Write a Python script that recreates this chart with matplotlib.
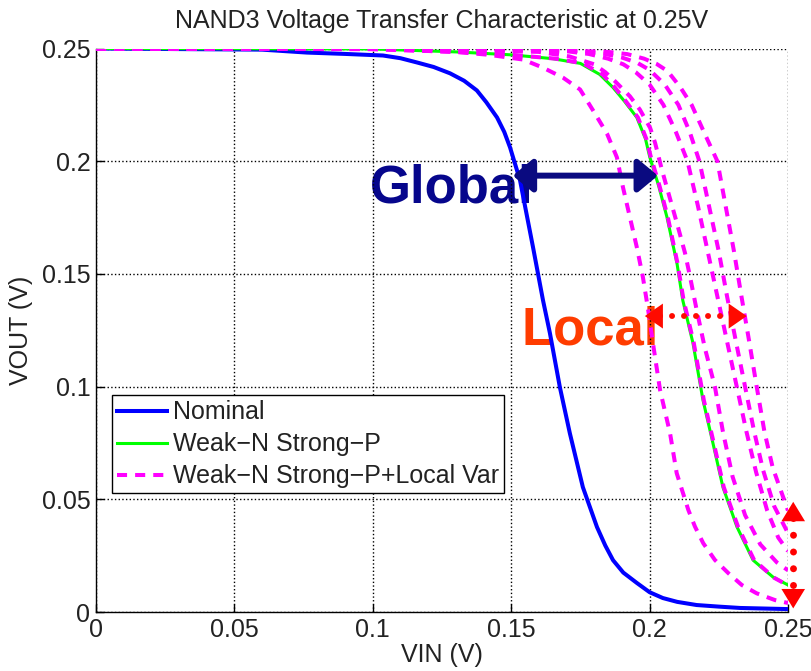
import matplotlib
matplotlib.use("Agg")
import matplotlib.pyplot as plt
from matplotlib.patches import FancyArrowPatch

plt.rcParams['font.family'] = ['Liberation Sans', 'DejaVu Sans']

# tick positions / labels
TICKS = [0, 0.05, 0.1, 0.15, 0.2, 0.25]
TICK_LABELS = ['0', '0.05', '0.1', '0.15', '0.2', '0.25']

# Nominal
nom_x = [0, 0.06, 0.0762, 0.09, 0.1037, 0.11, 0.116, 0.122, 0.1279, 0.133, 0.1376, 0.141,
         0.1449, 0.1475, 0.1496, 0.1532, 0.1579, 0.1615, 0.164, 0.1676, 0.1712, 0.1759,
         0.181, 0.184, 0.1868, 0.1905, 0.1954, 0.2, 0.2048, 0.21, 0.217, 0.225, 0.2327, 0.25]
nom_y = [0.25, 0.2495, 0.2482, 0.2476, 0.2469, 0.2457, 0.2438, 0.2418, 0.239, 0.2357, 0.2314,
         0.2262, 0.2194, 0.213, 0.2061, 0.1915, 0.1618, 0.1383, 0.1237, 0.0997, 0.0793, 0.0554,
         0.0377, 0.0295, 0.023, 0.0175, 0.0129, 0.0088, 0.0062, 0.0045, 0.0031, 0.0024, 0.0018,
         0.0013]

# Weak-N Strong-P
wnsp_x = [0, 0.10, 0.13, 0.15, 0.165, 0.175, 0.182, 0.1868, 0.191, 0.1954, 0.1985, 0.2001,
          0.2033, 0.2063, 0.2099, 0.212, 0.2157, 0.2193, 0.2229, 0.2265, 0.2316, 0.2374,
          0.2446, 0.25]
wnsp_y = [0.25, 0.2498, 0.2485, 0.2472, 0.2455, 0.2434, 0.2385, 0.2327, 0.2265, 0.2194, 0.21,
          0.2017, 0.189, 0.1751, 0.1547, 0.1383, 0.1192, 0.094, 0.0749, 0.0554, 0.0377, 0.023,
          0.0155, 0.012]

# Weak-N Strong-P + local variation, one pair of lists per run
lv1_x = [0, 0.10, 0.13, 0.142, 0.1543, 0.1615, 0.1687, 0.1749, 0.1796, 0.1846, 0.1882, 0.1904,
         0.1929, 0.1954, 0.1976, 0.1995, 0.2015, 0.2038, 0.2074, 0.2098, 0.214, 0.2164,
         0.2194, 0.2236, 0.2285, 0.2333, 0.2387, 0.2453, 0.25]
lv1_y = [0.25, 0.2497, 0.2485, 0.2472, 0.2451, 0.2415, 0.2371, 0.2318, 0.2225, 0.2123, 0.2017,
         0.1884, 0.1751, 0.1618, 0.1485, 0.134, 0.117, 0.0984, 0.0793, 0.0616, 0.0453, 0.0379,
         0.0305, 0.0231, 0.0172, 0.012, 0.0083, 0.0053, 0.004]

lv2_x = [0, 0.10, 0.13, 0.15, 0.166, 0.176, 0.183, 0.1875, 0.1915, 0.1958, 0.1988, 0.2005,
         0.2036, 0.2066, 0.2101, 0.2123, 0.2160, 0.2196, 0.2232, 0.2268, 0.2320, 0.2378,
         0.2450, 0.25]
lv2_y = [0.25, 0.2498, 0.2485, 0.2472, 0.2455, 0.2434, 0.2385, 0.2327, 0.2265, 0.2194, 0.21,
         0.2017, 0.189, 0.1751, 0.1547, 0.1383, 0.1192, 0.094, 0.0749, 0.0554, 0.0377, 0.023,
         0.0152, 0.0118]

lv3_x = [0, 0.12, 0.16, 0.171, 0.18, 0.184, 0.1875, 0.1929, 0.1965, 0.2002, 0.2020, 0.2045,
         0.2075, 0.2100, 0.2128, 0.2146, 0.2170, 0.2200, 0.2236, 0.2265, 0.2300, 0.2345,
         0.2400, 0.2460, 0.25]
lv3_y = [0.25, 0.2498, 0.2485, 0.2465, 0.243, 0.2395, 0.2355, 0.2288, 0.2229, 0.2148, 0.2081,
         0.196, 0.1829, 0.172, 0.1593, 0.1489, 0.1341, 0.117, 0.1, 0.08, 0.06, 0.043, 0.03,
         0.022, 0.0185]

lv4_x = [0, 0.13, 0.17, 0.178, 0.185, 0.1905, 0.195, 0.2, 0.205, 0.2095, 0.2137, 0.2175,
         0.221, 0.2245, 0.228, 0.2315, 0.235, 0.2385, 0.2425, 0.2465, 0.25]
lv4_y = [0.25, 0.2498, 0.2488, 0.2476, 0.2455, 0.243, 0.2395, 0.234, 0.225, 0.213, 0.2, 0.18,
         0.16, 0.14, 0.12, 0.1, 0.08, 0.062, 0.045, 0.033, 0.027]

lv5_x = [0, 0.14, 0.175, 0.183, 0.19, 0.1955, 0.2, 0.2055, 0.2104, 0.2145, 0.218, 0.2215,
         0.225, 0.228, 0.2312, 0.2345, 0.2378, 0.241, 0.245, 0.25]
lv5_y = [0.25, 0.2498, 0.2488, 0.2478, 0.246, 0.2437, 0.2405, 0.234, 0.225, 0.213, 0.2, 0.18,
         0.16, 0.14, 0.12, 0.1, 0.08, 0.063, 0.047, 0.035]

lv6_x = [0, 0.15, 0.185, 0.192, 0.198, 0.2025, 0.2065, 0.211, 0.2152, 0.22, 0.2245, 0.2275,
         0.2305, 0.2332, 0.236, 0.2387, 0.2415, 0.2445, 0.25]
lv6_y = [0.25, 0.2498, 0.2485, 0.2475, 0.2455, 0.2432, 0.24, 0.233, 0.225, 0.212, 0.2, 0.18,
         0.16, 0.14, 0.12, 0.1, 0.08, 0.064, 0.045]

local_runs = [(lv1_x, lv1_y), (lv2_x, lv2_y), (lv3_x, lv3_y),
              (lv4_x, lv4_y), (lv5_x, lv5_y), (lv6_x, lv6_y)]

# annotation anchors (data coords)
GLOBAL_TXT = (0.099, 0.1815)
GLOBAL_ARROW = ((0.1506, 0.1936), (0.2030, 0.1936))
LOCAL_TXT = (0.1537, 0.1185)
LOCAL_ARROW = ((0.1983, 0.1313), (0.2351, 0.1313))
VERT_ARROW = ((0.2519, 0.0489), (0.2519, 0.0016))


def dotted_arrow(ax, p0, p1, color, lw, gap, head_len, head_w):
    """dotted shaft between the heads + two solid heads"""
    (x0, y0), (x1, y1) = p0, p1
    f = 0.15  # keep the dots inside the heads
    ax.plot([x0 + f * (x1 - x0), x1 - f * (x1 - x0)],
            [y0 + f * (y1 - y0), y1 - f * (y1 - y0)],
            color=color, lw=lw, linestyle=(0, (0.01, gap)),
            dash_capstyle='round', zorder=6, clip_on=False)
    ax.add_patch(FancyArrowPatch(p0, p1,
                                 arrowstyle=f'<|-|>,head_length={head_len},head_width={head_w}',
                                 mutation_scale=10, color=color, lw=0,
                                 shrinkA=0, shrinkB=0, zorder=6, clip_on=False))


fig = plt.figure(figsize=(8.12, 6.71), dpi=100)
ax = fig.add_axes([0.1182, 0.0879, 0.8522, 0.8398])

ax.plot(nom_x, nom_y, color='#0000ff', lw=2.9, label='Nominal', zorder=3)
ax.plot(wnsp_x, wnsp_y, color='#00ff00', lw=2.2, label='Weak\u2212N Strong\u2212P', zorder=3)
for i, (xs, ys) in enumerate(local_runs):
    ax.plot(xs, ys, color='#ff00ff', lw=2.9, linestyle=(0, (2.5, 2)),
            label='Weak\u2212N Strong\u2212P+Local Var' if i == 0 else None, zorder=4)

ax.set_xlim(0, 0.25)
ax.set_ylim(0, 0.25)
ax.set_xticks(TICKS)
ax.set_xticklabels(TICK_LABELS)
ax.set_yticks(TICKS)
ax.set_yticklabels(TICK_LABELS)
ax.tick_params(direction='in', length=6, width=1, labelsize=18, pad=4,
               top=False, right=False, colors='black')
ax.tick_params(labelcolor='#222222')
for s in ['top', 'right']:
    ax.spines[s].set_visible(False)
for s in ['left', 'bottom']:
    ax.spines[s].set_linewidth(1.0)
ax.grid(True, color='black', linestyle=':', linewidth=1.0)

ax.set_title('NAND3 Voltage Transfer Characteristic at 0.25V', fontsize=18,
             pad=15, color='#222222')
ax.set_xlabel('VIN (V)', fontsize=18, labelpad=1, color='#222222')
ax.set_ylabel('VOUT (V)', fontsize=18, labelpad=6, color='#222222')

leg = ax.legend(loc='lower left', bbox_to_anchor=(0.0227, 0.2107), fontsize=18,
                handlelength=2.0, handletextpad=0.25, labelspacing=0.32,
                borderpad=0.2, borderaxespad=0, fancybox=False, framealpha=1)
leg.get_frame().set_edgecolor('black')
leg.get_frame().set_linewidth(1.0)
for t in leg.get_texts():
    t.set_color('#222222')

# annotations
ax.text(*GLOBAL_TXT, 'Global', fontsize=38, fontweight='bold', color='#06068c',
        ha='left', va='baseline', zorder=1.5)
ax.text(*LOCAL_TXT, 'Local', fontsize=38, fontweight='bold', color='#ff3c00',
        ha='left', va='baseline', zorder=1.5)

ax.add_patch(FancyArrowPatch(GLOBAL_ARROW[0], GLOBAL_ARROW[1],
                             arrowstyle='<|-|>,head_length=1.2,head_width=1.0',
                             mutation_scale=10, color='#0a0a80', lw=4.3,
                             shrinkA=0, shrinkB=0, zorder=6))

dotted_arrow(ax, LOCAL_ARROW[0], LOCAL_ARROW[1], '#ff0a00', 4.3, 2.0, 1.3, 0.9)
dotted_arrow(ax, VERT_ARROW[0], VERT_ARROW[1], '#ff0000', 5.0, 2.4, 1.4, 0.85)

fig.savefig('out.png', dpi=100)
